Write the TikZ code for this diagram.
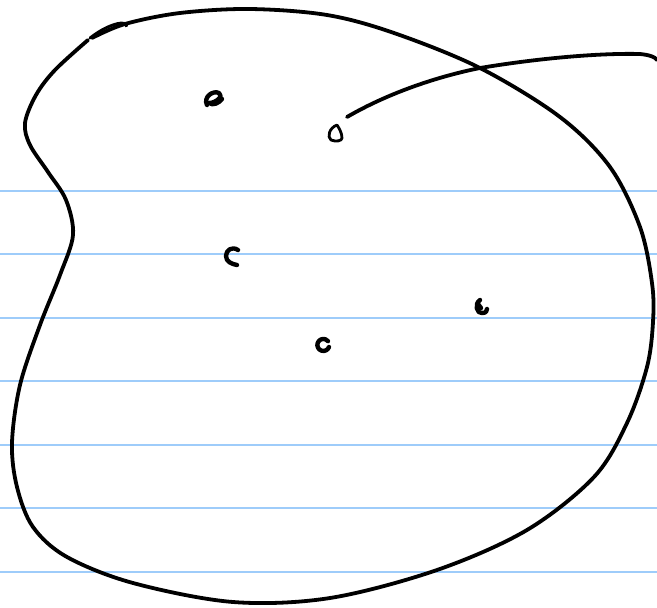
\documentclass[tikz,border=0pt]{standalone}
\definecolor{ruleblue}{RGB}{158,204,250}
\tikzset{
  ruling/.style={draw=ruleblue, line width=2pt},
  ink/.style={draw=black, line width=3.8pt, line cap=round, line join=round},
  inkthin/.style={draw=black, line width=2.8pt, line cap=round, line join=round},
  inkmark/.style={draw=black, line width=4.4pt, line cap=round, line join=round},
}
\begin{document}
\begin{tikzpicture}[x=1pt,y=-1pt]
\useasboundingbox (0,0) rectangle (657,608);
\fill[white] (0,0) rectangle (657,608);
% ruled lines
\foreach \yy in {190.5,254,317.5,381,444.5,508,571.5}
  \draw[ruling] (0,\yy) -- (657,\yy);
% blob outline
\draw[ink] plot[smooth, tension=0.55] coordinates {
  (92,38) (125,24) (180,13) (250,9) (327,15) (394,33) (480,68) (560,117)
  (610,167) (640,227) (652,283) (653,322) (647,367) (627,423) (594,477)
  (527,530) (437,570) (330,598) (233,602) (133,583) (67,557) (33,527)
  (17,487) (12,443) (20,385) (40,325) (60,275) (73,235) (66,200) (48,172)
  (30,145) (25,123) (36,95) (55,70) (88,40)};
% overlapping stroke at the top left
\draw[inkthin] (90,38) .. controls (100,30) and (112,24) .. (121,23)
  .. controls (126,23) and (128,25) .. (126,26);
% tail from the small circle to the right edge
\draw[ink] (347,117) .. controls (390,92) and (440,76) .. (480,68)
  .. controls (540,58) and (600,53) .. (640,54)
  .. controls (650,55) and (655,57) .. (657,60);
% small marks
\draw[inkmark] (207,105) .. controls (203,97) and (213,90) .. (219,93)
  .. controls (224,96) and (216,103) .. (209,103)
  .. controls (213,106) and (219,103) .. (222,99);
\draw[inkthin] (337,125) .. controls (329,128) and (327,137) .. (331,140)
  .. controls (336,142) and (342,141) .. (342,138)
  .. controls (342,133) and (339,128) .. (337,125);
\draw[inkmark] (238,250) .. controls (232,246) and (226,250) .. (226,256)
  .. controls (226,262) and (232,264) .. (237,265);
\draw[inkmark] (329,347) arc[start angle=20, end angle=320, radius=6];
\draw[inkmark] (480,300) .. controls (474,304) and (477,314) .. (482,313)
  .. controls (486,313) and (487,311) .. (487,309);
\draw[inkmark] (478,304) -- (481,308);
\end{tikzpicture}
\end{document}
